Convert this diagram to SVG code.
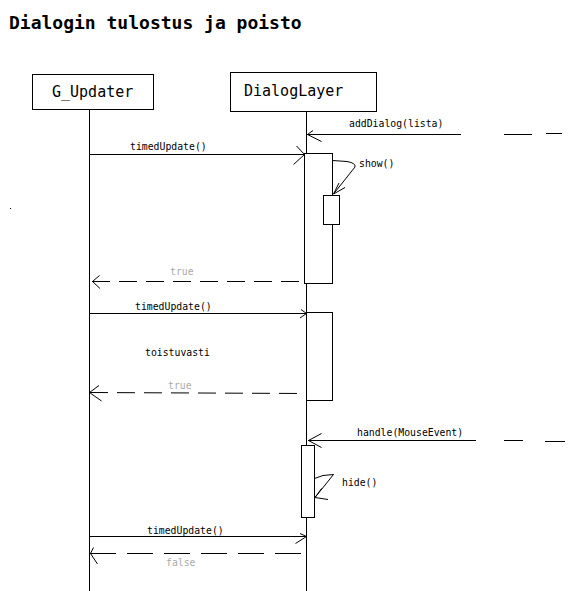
<svg xmlns="http://www.w3.org/2000/svg" width="572" height="591" viewBox="0 0 572 591">
<style>
.ln{stroke:#000;stroke-width:1;fill:none}
.box{stroke:#000;stroke-width:1;fill:#fff}
.ret{stroke:#000;stroke-width:1;fill:none;stroke-dasharray:18 9}
.title{font-family:"DejaVu Sans Mono","Liberation Mono",monospace;font-weight:bold;font-size:18px;fill:#000}
.name{font-family:"DejaVu Sans Mono","Liberation Mono",monospace;font-size:15px;fill:#000}
.msg{font-family:"DejaVu Sans Mono","Liberation Mono",monospace;font-size:9.8px;fill:#000}
.gray{font-family:"DejaVu Sans Mono","Liberation Mono",monospace;font-size:9.8px;fill:#aaa}
</style>
<rect width="572" height="591" fill="#fff"/>
<text class="title" x="9" y="29">Dialogin tulostus ja poisto</text>
<rect x="10" y="208" width="1" height="1" fill="#000"/>

<g id="G_Updater">
  <line class="ln" x1="89.5" y1="109" x2="89.5" y2="591"/>
  <rect class="box" x="32.5" y="74.5" width="121" height="35"/>
  <text class="name" x="52" y="97">G_Updater</text>
</g>

<g id="DialogLayer">
  <line class="ln" x1="306.5" y1="112" x2="306.5" y2="591"/>
  <rect class="box" x="230.5" y="72.5" width="146" height="39"/>
  <text class="name" x="244" y="96">DialogLayer</text>
</g>

<g id="activation1">
  <rect class="box" x="304.5" y="153.5" width="28" height="130"/>
  <rect class="box" x="323.5" y="195.5" width="16" height="29"/>
</g>
<g id="activation2">
  <rect class="box" x="306.5" y="312.5" width="26" height="88"/>
</g>
<g id="activation3">
  <rect class="box" x="301.5" y="445.5" width="13" height="72"/>
</g>

<g id="connectors">
  <!-- addDialog(lista) -->
  <line class="ln" x1="307" y1="134.5" x2="461" y2="134.5"/>
  <line class="ln" x1="504" y1="134.5" x2="532" y2="134.5"/>
  <line class="ln" x1="546" y1="133.5" x2="562" y2="133.5"/>
  <polyline class="ln" points="313,130.5 307.5,134.5 321.5,141.5"/>
  <text class="msg" x="349" y="127">addDialog(lista)</text>

  <!-- timedUpdate 1 -->
  <line class="ln" x1="89.5" y1="154.5" x2="304" y2="154.5"/>
  <polyline class="ln" points="296.5,146 304.5,154.5 293.5,164.5"/>
  <text class="msg" x="130" y="150">timedUpdate()</text>

  <!-- show() self call -->
  <path class="ln" d="M332.5,160.5 L347,161.5 Q356,163 355,167 L333.5,194"/>
  <polyline class="ln" points="345,187.5 333.5,194 339,183"/>
  <text class="msg" x="359" y="167">show()</text>

  <!-- return true 1 -->
  <line class="ret" x1="92" y1="281.5" x2="304" y2="281.5"/>
  <polyline class="ln" points="99.5,275.5 92.5,281.5 100,288.5"/>
  <text class="gray" x="170" y="275">true</text>

  <!-- timedUpdate 2 -->
  <line class="ln" x1="89.5" y1="313.5" x2="306" y2="313.5"/>
  <polyline class="ln" points="301,309.5 306.5,313.5 300,318"/>
  <text class="msg" x="135" y="310">timedUpdate()</text>
  <text class="msg" x="145" y="356">toistuvasti</text>

  <!-- return true 2 -->
  <line class="ret" x1="90" y1="392.5" x2="306" y2="393.5"/>
  <polyline class="ln" points="99,385.5 89.5,392.5 101.5,401"/>
  <text class="gray" x="168" y="389">true</text>

  <!-- handle(MouseEvent) -->
  <line class="ln" x1="308" y1="440.5" x2="476" y2="440.5"/>
  <line class="ln" x1="504" y1="440.5" x2="523" y2="440.5"/>
  <line class="ln" x1="545" y1="441.5" x2="565" y2="441.5"/>
  <polyline class="ln" points="321.5,433.5 308.5,440.5 321.5,447.5"/>
  <text class="msg" x="357" y="436">handle(MouseEvent)</text>

  <!-- hide() self call -->
  <path class="ln" d="M314.5,478.5 L323,475.5 L333.5,474.5 L315,497.5"/>
  <polyline class="ln" points="321.5,488.5 315,497.5 328,499.5"/>
  <text class="msg" x="342" y="486">hide()</text>

  <!-- timedUpdate 3 -->
  <line class="ln" x1="89.5" y1="536.5" x2="306" y2="536.5"/>
  <polyline class="ln" points="300,533.5 306.5,536.5 295.5,543.5"/>
  <text class="msg" x="147" y="534">timedUpdate()</text>

  <!-- return false -->
  <line class="ret" x1="90" y1="553.5" x2="306" y2="553.5" style="stroke-dasharray:26 11"/>
  <polyline class="ln" points="93.5,547.5 90.5,553.5 97.5,564"/>
  <text class="gray" x="166" y="566">false</text>
</g>
</svg>
